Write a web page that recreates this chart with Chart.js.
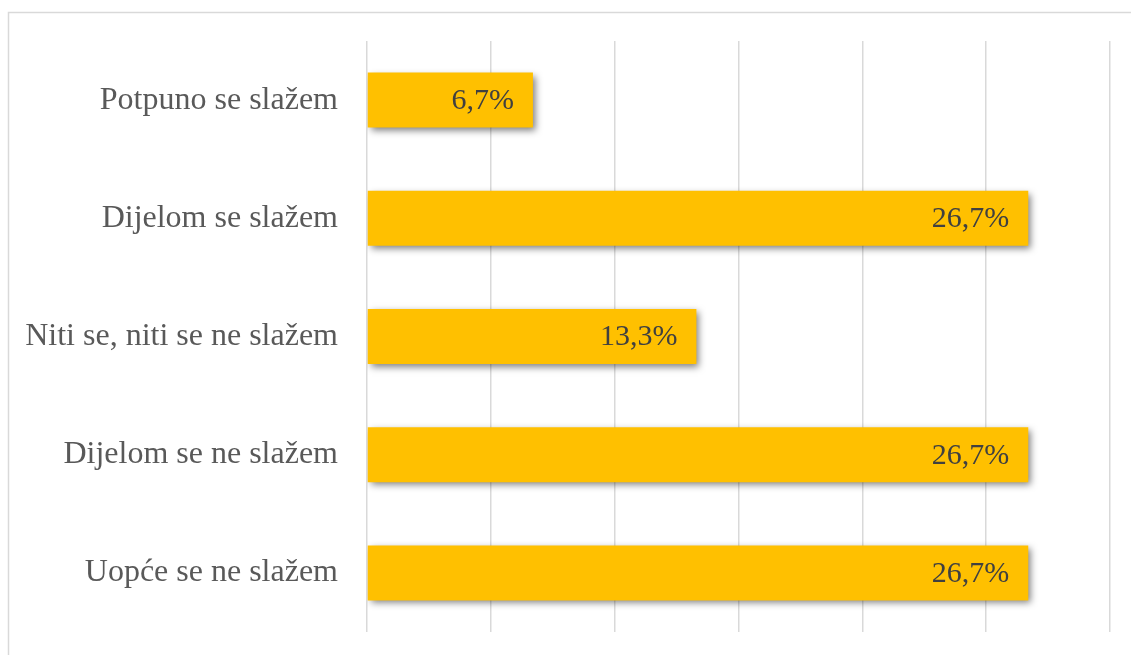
<!DOCTYPE html>
<html>
<head>
<meta charset="utf-8">
<script src="https://cdn.jsdelivr.net/npm/chart.js@4/dist/chart.umd.min.js"></script>
<style>
  html, body { margin: 0; padding: 0; background: #fff; }
  #wrap { width: 1131px; height: 655px; position: relative; }
</style>
</head>
<body>
<div id="wrap"><canvas id="grafikon"></canvas></div>
<script>
// podaci
const kategorije = ['Potpuno se slažem', 'Dijelom se slažem', 'Niti se, niti se ne slažem', 'Dijelom se ne slažem', 'Uopće se ne slažem'];
const postoci = [6.7, 26.7, 13.3, 26.7, 26.7];
const osMin = 0;
const osMax = 30;
const osKorak = 5;

// okvir oko grafikona
const okvir = {
    id: 'okvir',
    beforeDraw(chart) {
        const c = chart.ctx;
        c.save();
        c.strokeStyle = '#d9d9d9';
        c.lineWidth = 1.5;
        c.strokeRect(8.5, 12.5, 1300, 1000);
        c.restore();
    }
};

// sjena ispod stupaca
const sjena = {
    id: 'sjena',
    beforeDatasetDraw(chart) {
        const c = chart.ctx;
        c.save();
        c.shadowColor = 'rgba(0,0,0,0.5)';
        c.shadowBlur = 7;
        c.shadowOffsetX = 3;
        c.shadowOffsetY = 3;
    },
    afterDatasetDraw(chart) {
        chart.ctx.restore();
    }
};

// oznake vrijednosti na kraju stupca
const oznake = {
    id: 'oznake',
    afterDatasetsDraw(chart) {
        const c = chart.ctx;
        const meta = chart.getDatasetMeta(0);
        c.save();
        c.font = '30px "Liberation Serif", "Times New Roman", serif';
        c.fillStyle = '#404040';
        c.textAlign = 'right';
        c.textBaseline = 'middle';
        meta.data.forEach((bar, i) => {
            const txt = postoci[i].toFixed(1).replace('.', ',') + '%';
            c.fillText(txt, bar.x - 19, bar.y + 1);
        });
        c.restore();
    }
};

const ctx = document.getElementById('grafikon').getContext('2d');

new Chart(ctx, {
    type: 'bar',
    data: {
        labels: kategorije,
        datasets: [{
            data: postoci,
            backgroundColor: '#FFC000',
            borderWidth: 0,
            categoryPercentage: 0.93,
            barPercentage: 0.5
        }]
    },
    options: {
        indexAxis: 'y',
        responsive: true,
        maintainAspectRatio: false,
        animation: false,
        layout: {
            padding: { left: 0, right: 21, top: 41, bottom: 23 }
        },
        plugins: {
            legend: { display: false },
            tooltip: { enabled: false }
        },
        scales: {
            x: {
                min: osMin,
                max: osMax,
                ticks: { display: false, stepSize: osKorak },
                grid: { color: '#d9d9d9', lineWidth: 1.5, drawTicks: false },
                border: { display: false },
                afterFit(scale) { scale.height = 0; }
            },
            y: {
                grid: { display: false },
                border: { display: false },
                ticks: {
                    color: '#595959',
                    padding: 21,
                    font: { family: '"Liberation Serif", "Times New Roman", serif', size: 32 }
                },
                afterFit(scale) {
                    scale.width = 367;
                    scale.paddingTop = 0;
                    scale.paddingBottom = 0;
                }
            }
        }
    },
    plugins: [okvir, sjena, oznake]
});
</script>
</body>
</html>
